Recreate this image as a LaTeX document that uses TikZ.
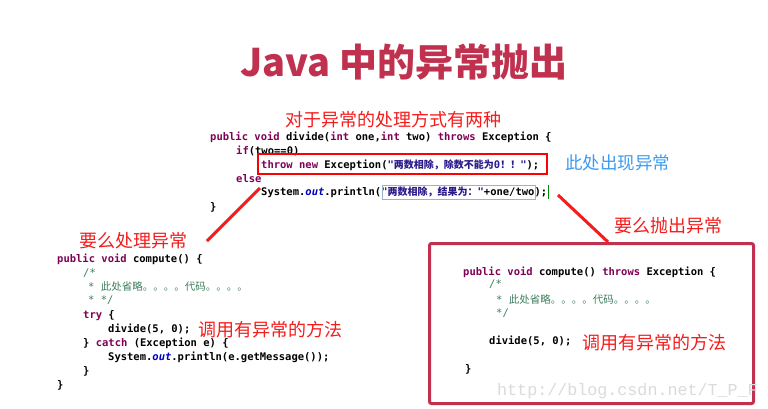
\documentclass[tikz,border=0pt]{standalone}
\usepackage{fontspec}
\newfontfamily\cjk{Noto Sans CJK SC}
\newfontfamily\codefont{DejaVu Sans Mono}
\newfontfamily\markfont{Liberation Mono}

\definecolor{titlered}{HTML}{C0304F}
\definecolor{notered}{HTML}{F41C1C}
\definecolor{noteblue}{HTML}{3D9BF0}
\definecolor{kwpurple}{HTML}{7F0055}
\definecolor{strblue}{HTML}{2A1A8A}
\definecolor{fieldblue}{HTML}{0000C0}
\definecolor{comgreen}{HTML}{3F7F5F}
\definecolor{hlblue}{HTML}{9FB0CC}

\newcommand{\kw}[1]{\textcolor{kwpurple}{#1}}
\newcommand{\jstr}[1]{\textcolor{strblue}{#1}}
\newcommand{\jout}{\textcolor{fieldblue}{\itshape out}}
\newcommand{\zh}[1]{{\cjk #1}}
\newcommand{\zhstr}[1]{{\cjk\fontsize{10}{12}\selectfont #1}}

\tikzset{
    codeline/.style={anchor=base west, inner sep=0pt,
        font=\codefont\bfseries\fontsize{10.5}{12}\selectfont},
    commentline/.style={anchor=base west, inner sep=0pt, text=comgreen,
        font=\codefont\fontsize{10.5}{12}\selectfont},
    notetext/.style={anchor=base west, inner sep=0pt, text=notered,
        font=\cjk\fontsize{18}{20}\selectfont},
    pointer/.style={draw=notered, line width=3pt}
}

\begin{document}
\begin{tikzpicture}
[
    x=1pt, y=-1pt
]
    \fill[white] (0,0) rectangle (768,408);
    \useasboundingbox (0,0) rectangle (768,408);

    \node [anchor=base west, inner sep=0pt, text=titlered,
        font=\cjk\bfseries\fontsize{38}{40}\selectfont] (title) at (240,76) {Java 中的异常抛出};

    % method that throws
    \node [notetext] (twoways) at (285,126.7) {对于异常的处理方式有两种};
    \node [codeline] (d1) at (210,140) {\kw{public} \kw{void} divide(\kw{int} one,\kw{int} two) \kw{throws} Exception \{};
    \node [codeline] (d2) at (236,154) {\kw{if}(two==0)};
    \node [codeline] (d3) at (261,168) {\kw{throw} \kw{new} Exception(\jstr{"\zhstr{两数相除，除数不能为}0\zhstr{！！}"});};
    \node [codeline] (d4) at (236,182) {\kw{else}};
    \node [codeline] (d5) at (261,195) {System.\jout.println(\jstr{"\zhstr{两数相除，结果为：}"}+one/two);};
    \node [codeline] (d6) at (210,210) {\}};
    \draw [draw=hlblue, line width=0.6pt] (382,185) rectangle (535,199);
    \draw [draw=green!55!black, line width=0.8pt] (548,185) -- (548,199);
    \draw [draw=red, line width=2.7pt] (258,154) rectangle (547,174);
    \node [notetext, text=noteblue, font=\cjk\fontsize{17.5}{20}\selectfont] (here) at (565,169.5) {此处出现异常};

    % handle it
    \node [notetext] (handle) at (79,247.7) {要么处理异常};
    \node [codeline] (a1) at (57,262) {\kw{public} \kw{void} compute() \{};
    \node [commentline] (a2) at (83,276) {/*};
    \node [commentline] (a3) at (88,290) {* \zh{此处省略。。。。代码。。。。}};
    \node [commentline] (a4) at (88,303) {* */};
    \node [codeline] (a5) at (83,318) {\kw{try} \{};
    \node [codeline] (a6) at (108,332) {divide(5, 0);};
    \node [codeline] (a7) at (83,346) {\} \kw{catch} (Exception e) \{};
    \node [codeline] (a8) at (108,360) {System.\jout.println(e.getMessage());};
    \node [codeline] (a9) at (83,374) {\}};
    \node [codeline] (a10) at (57,388) {\}};
    \node [notetext] (callleft) at (198,336.7) {调用有异常的方法};

    % throw it on
    \node [notetext] (rethrow) at (614,232) {要么抛出异常};
    \node [draw=titlered, line width=3pt, rounded corners=2pt, inner sep=0pt,
        minimum width=324pt, minimum height=160pt, anchor=north west] (throwbox) at (428,242) {};
    \node [codeline] (b1) at (463,275) {\kw{public} \kw{void} compute() \kw{throws} Exception \{};
    \node [commentline] (b2) at (489,287) {/*};
    \node [commentline] (b3) at (496,303) {* \zh{此处省略。。。。代码。。。。}};
    \node [commentline] (b4) at (496,316) {*/};
    \node [codeline] (b5) at (489,344) {divide(5, 0);};
    \node [codeline] (b6) at (465,372) {\}};
    \node [notetext] (callright) at (582,349) {调用有异常的方法};
    \node [anchor=base west, inner sep=0pt, text=black!14,
        font=\markfont\fontsize{16.7}{18}\selectfont] (mark) at (497,395) {http://blog.csdn.net/T\_P\_F};

    % pointers
    \coordinate (lstart) at (260,188);
    \coordinate (lend) at (207,241);
    \coordinate (rstart) at (558,195);
    \coordinate (rend) at (608,242);
    \draw [pointer] (lstart) -- (lend);
    \draw [pointer] (rstart) -- (rend);
\end{tikzpicture}
\end{document}
